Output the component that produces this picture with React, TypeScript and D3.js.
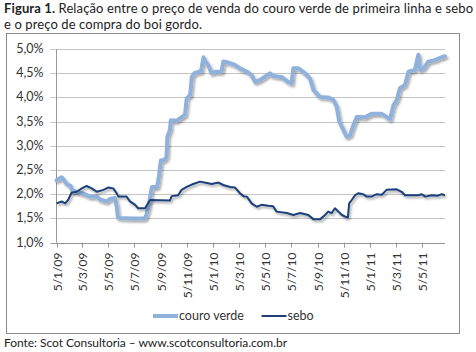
import React, { useEffect, useRef } from "react";
import * as d3 from "d3";

// weekly-ish readings, dates as yyyy-mm-dd, values in %
const couroDates = [
  "2009-01-05", "2009-01-17", "2009-01-29", "2009-02-07", "2009-02-10", "2009-03-05",
  "2009-03-12", "2009-03-24", "2009-04-09", "2009-04-16", "2009-05-02", "2009-05-09",
  "2009-05-21", "2009-05-25", "2009-05-28", "2009-06-02", "2009-06-30", "2009-07-30",
  "2009-08-03", "2009-08-07", "2009-08-11", "2009-08-15", "2009-08-27", "2009-08-30",
  "2009-09-02", "2009-09-05", "2009-09-12", "2009-09-18", "2009-09-20", "2009-09-26",
  "2009-09-28", "2009-10-12", "2009-10-23", "2009-10-31", "2009-11-04", "2009-11-12",
  "2009-11-16", "2009-11-22", "2009-12-01", "2009-12-07", "2009-12-13", "2009-12-17",
  "2009-12-24", "2010-01-01", "2010-01-09", "2010-01-24", "2010-01-28", "2010-02-09",
  "2010-02-24", "2010-03-08", "2010-03-24", "2010-04-04", "2010-04-12", "2010-04-24",
  "2010-05-05", "2010-05-17", "2010-05-24", "2010-06-13", "2010-06-28", "2010-07-06",
  "2010-07-10", "2010-07-22", "2010-08-06", "2010-08-18", "2010-08-26", "2010-09-10",
  "2010-09-29", "2010-10-11", "2010-10-19", "2010-10-25", "2010-10-31", "2010-11-11",
  "2010-11-19", "2010-11-27", "2010-12-05", "2010-12-24", "2011-01-08", "2011-02-01",
  "2011-02-20", "2011-02-28", "2011-03-08", "2011-03-15", "2011-03-27", "2011-04-04",
  "2011-04-19", "2011-04-27", "2011-05-01", "2011-05-09", "2011-05-20", "2011-06-04",
  "2011-06-20", "2011-06-28",
];
const couroValues = [
  2.29, 2.35, 2.21, 2.17, 2.08, 2.02,
  2.0, 1.95, 1.95, 1.89, 1.85, 1.9,
  1.92, 1.75, 1.52, 1.51, 1.5, 1.5,
  1.6, 1.74, 1.95, 2.15, 2.15, 2.29,
  2.5, 2.7, 2.7, 2.77, 3.19, 3.33,
  3.53, 3.52, 3.59, 3.64, 3.98, 4.05,
  4.43, 4.5, 4.53, 4.53, 4.83, 4.74,
  4.67, 4.5, 4.53, 4.53, 4.74, 4.72,
  4.67, 4.6, 4.53, 4.46, 4.32, 4.36,
  4.43, 4.5, 4.44, 4.42, 4.32, 4.29,
  4.6, 4.6, 4.5, 4.39, 4.15, 4.01,
  4.0, 3.95, 3.81, 3.5, 3.39, 3.19,
  3.22, 3.43, 3.6, 3.59, 3.66, 3.66,
  3.55, 3.84, 3.95, 4.19, 4.26, 4.53,
  4.57, 4.88, 4.57, 4.6, 4.74, 4.77,
  4.83, 4.85,
];

const seboDates = [
  "2009-01-05", "2009-01-17", "2009-01-25", "2009-02-01", "2009-02-09", "2009-02-21",
  "2009-03-05", "2009-03-16", "2009-03-28", "2009-04-09", "2009-04-24", "2009-05-06",
  "2009-05-17", "2009-05-25", "2009-05-29", "2009-06-17", "2009-06-25", "2009-07-07",
  "2009-07-14", "2009-07-30", "2009-08-07", "2009-08-11", "2009-09-26", "2009-09-30",
  "2009-10-15", "2009-10-23", "2009-11-04", "2009-11-19", "2009-12-05", "2009-12-21",
  "2010-01-01", "2010-01-17", "2010-01-28", "2010-02-13", "2010-02-24", "2010-03-08",
  "2010-03-16", "2010-03-24", "2010-04-04", "2010-04-16", "2010-04-27", "2010-05-13",
  "2010-05-24", "2010-06-01", "2010-06-25", "2010-07-10", "2010-07-26", "2010-08-14",
  "2010-08-26", "2010-09-10", "2010-09-22", "2010-09-29", "2010-10-07", "2010-10-15",
  "2010-10-23", "2010-10-31", "2010-11-07", "2010-11-14", "2010-11-17", "2010-11-23",
  "2010-12-01", "2010-12-08", "2010-12-20", "2010-12-28", "2011-01-08", "2011-01-20",
  "2011-02-01", "2011-02-12", "2011-03-08", "2011-03-19", "2011-03-27", "2011-04-27",
  "2011-05-05", "2011-05-13", "2011-05-28", "2011-06-12", "2011-06-20", "2011-06-28",
];
const seboValues = [
  1.81, 1.85, 1.81, 1.88, 2.03, 2.05,
  2.12, 2.17, 2.12, 2.05, 2.09, 2.14,
  2.12, 2.02, 1.95, 1.95, 1.85, 1.78,
  1.71, 1.71, 1.83, 1.88, 1.87, 1.96,
  1.98, 2.09, 2.15, 2.21, 2.26, 2.23,
  2.21, 2.24, 2.19, 2.15, 2.14, 2.02,
  1.96, 1.95, 1.81, 1.74, 1.78, 1.76,
  1.75, 1.64, 1.61, 1.57, 1.61, 1.57,
  1.48, 1.48, 1.57, 1.64, 1.61, 1.71,
  1.64, 1.57, 1.54, 1.52, 1.81, 1.88,
  1.98, 2.02, 2.0, 1.95, 1.95, 2.0,
  1.99, 2.09, 2.1, 2.05, 1.98, 1.98,
  2.0, 1.95, 1.98, 1.97, 2.0, 1.98,
];

const xTickDates = [
  "2009-01-05", "2009-03-05", "2009-05-05", "2009-07-05", "2009-09-05", "2009-11-05",
  "2010-01-05", "2010-03-05", "2010-05-05", "2010-07-05", "2010-09-05", "2010-11-05",
  "2011-01-05", "2011-03-05", "2011-05-05",
];
const yTicks = [1.0, 1.5, 2.0, 2.5, 3.0, 3.5, 4.0, 4.5, 5.0];

const seriesNames = ["couro verde", "sebo"];
const seriesColors = ["#8fb1dc", "#1c3f7a"];

const titleBold = "Figura 1.";
const titleLine1 = " Relação entre o preço de venda do couro verde de primeira linha e sebo";
const titleLine2 = "e o preço de compra do boi gordo.";
const sourceText = "Fonte: Scot Consultoria – www.scotconsultoria.com.br";

const FONT = "Lato, 'Open Sans', sans-serif";

const App: React.FC = () => {
  const svgRef = useRef<SVGSVGElement | null>(null);

  useEffect(() => {
    const svg = d3.select(svgRef.current);
    svg.selectAll("*").remove();

    const parse = d3.timeParse("%Y-%m-%d");
    const left = 56.5;
    const right = 445;
    const top = 49;
    const bottom = 242.6;

    const x = d3
      .scaleTime()
      .domain([parse("2009-01-05")!, parse("2011-06-28")!])
      .range([left, right]);
    const y = d3.scaleLinear().domain([1, 5]).range([bottom, top]);

    const defs = svg.append("defs");
    defs
      .append("filter")
      .attr("id", "shadow")
      .attr("x", "-5%")
      .attr("y", "-5%")
      .attr("width", "110%")
      .attr("height", "120%")
      .append("feDropShadow")
      .attr("dx", 1.5)
      .attr("dy", 2)
      .attr("stdDeviation", 1)
      .attr("flood-color", "#000")
      .attr("flood-opacity", 0.35);

    // title
    const t1 = svg
      .append("text")
      .attr("x", 4)
      .attr("y", 13)
      .attr("font-family", FONT)
      .attr("font-size", 13)
      .attr("fill", "#222")
      .attr("textLength", 469)
      .attr("lengthAdjust", "spacing");
    t1.append("tspan").attr("font-weight", "bold").text(titleBold);
    t1.append("tspan").text(titleLine1);
    svg
      .append("text")
      .attr("x", 4)
      .attr("y", 29)
      .attr("font-family", FONT)
      .attr("font-size", 13)
      .attr("fill", "#222")
      .attr("textLength", 198)
      .attr("lengthAdjust", "spacing")
      .text(titleLine2);

    // frame
    svg
      .append("rect")
      .attr("x", 6.5)
      .attr("y", 33.5)
      .attr("width", 453)
      .attr("height", 300)
      .attr("fill", "#fff")
      .attr("stroke", "#8c8c8c");

    // grid
    svg
      .append("g")
      .selectAll("line")
      .data(yTicks)
      .enter()
      .append("line")
      .attr("x1", left - 6)
      .attr("x2", right)
      .attr("y1", (d) => Math.round(y(d)) + 0.5)
      .attr("y2", (d) => Math.round(y(d)) + 0.5)
      .attr("stroke", (d) => (d === 1 ? "#999" : "#c4c4c4"))
      .attr("stroke-width", 1);

    svg
      .append("line")
      .attr("x1", left)
      .attr("x2", left)
      .attr("y1", top)
      .attr("y2", bottom)
      .attr("stroke", "#999");

    // y labels
    const fmtY = (v: number) => v.toFixed(1).replace(".", ",") + "%";
    svg
      .append("g")
      .selectAll("text")
      .data(yTicks)
      .enter()
      .append("text")
      .attr("x", 43.5)
      .attr("y", (d) => y(d) + 4)
      .attr("text-anchor", "end")
      .attr("font-family", FONT)
      .attr("font-size", 12.5)
      .attr("fill", "#333")
      .text(fmtY);

    // x ticks + labels
    const fmtX = d3.timeFormat("%-d/%-m/%y");
    const tickG = svg
      .append("g")
      .selectAll("g")
      .data(xTickDates.map((s) => parse(s)!))
      .enter()
      .append("g")
      .attr("transform", (d) => `translate(${Math.round(x(d)) + 0.5},${bottom})`);
    tickG
      .append("line")
      .attr("y1", 0)
      .attr("y2", 5)
      .attr("stroke", "#999");
    tickG
      .append("text")
      .attr("transform", "rotate(-90)")
      .attr("x", -10)
      .attr("y", 4)
      .attr("text-anchor", "end")
      .attr("font-family", FONT)
      .attr("font-size", 12)
      .attr("fill", "#333")
      .text((d) => fmtX(d as Date));

    // lines
    const line = d3
      .line<[Date, number]>()
      .x((d) => x(d[0]))
      .y((d) => y(d[1]))
      .curve(d3.curveLinear);

    const couro = couroDates.map((s, i) => [parse(s)!, couroValues[i]] as [Date, number]);
    const sebo = seboDates.map((s, i) => [parse(s)!, seboValues[i]] as [Date, number]);

    svg
      .append("path")
      .datum(couro)
      .attr("d", line)
      .attr("fill", "none")
      .attr("stroke", seriesColors[0])
      .attr("stroke-width", 4)
      .attr("stroke-linejoin", "round")
      .attr("stroke-linecap", "round")
      .attr("filter", "url(#shadow)");

    svg
      .append("path")
      .datum(sebo)
      .attr("d", line)
      .attr("fill", "none")
      .attr("stroke", seriesColors[1])
      .attr("stroke-width", 2)
      .attr("stroke-linejoin", "round")
      .attr("filter", "url(#shadow)");

    // legend
    const legendX = [153, 261.5];
    const legend = svg
      .append("g")
      .selectAll("g")
      .data(seriesNames)
      .enter()
      .append("g")
      .attr("transform", (_, i) => `translate(${legendX[i]},316)`);
    legend
      .append("line")
      .attr("x1", 0)
      .attr("x2", 25)
      .attr("stroke", (_, i) => seriesColors[i])
      .attr("stroke-width", (_, i) => (i === 0 ? 4 : 2));
    legend
      .append("text")
      .attr("x", 26)
      .attr("y", 4)
      .attr("font-family", FONT)
      .attr("font-size", 12.5)
      .attr("fill", "#333")
      .text((d) => d);

    // source
    svg
      .append("text")
      .attr("x", 4)
      .attr("y", 346.5)
      .attr("font-family", FONT)
      .attr("font-size", 12)
      .attr("fill", "#222")
      .attr("textLength", 283)
      .attr("lengthAdjust", "spacing")
      .text(sourceText);
  }, []);

  return (
    <svg
      ref={svgRef}
      width={476}
      height={352}
      style={{ position: "absolute", left: 0, top: 0, background: "#fff" }}
    ></svg>
  );
};

export default App;
